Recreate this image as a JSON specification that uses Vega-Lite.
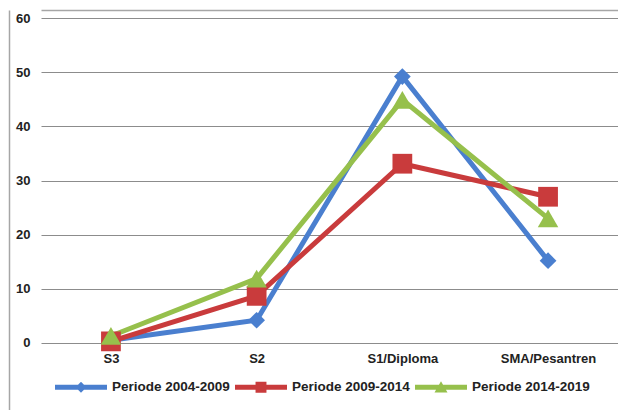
{
  "$schema": "https://vega.github.io/schema/vega-lite/v6.json",
  "width": 577,
  "height": 400,
  "autosize": {"type": "none"},
  "padding": {"left": 41, "top": 10, "right": 0, "bottom": 0},
  "background": "white",
  "config": {
    "view": {"stroke": null},
    "font": "Liberation Sans",
    "axis": {"labelFont": "Liberation Sans", "labelFontSize": 13, "labelFontWeight": "bold", "labelColor": "#222222"}
  },
  "data": {
    "values": [
      {"level": "S3", "periode": "Periode 2004-2009", "value": 0.5},
      {"level": "S2", "periode": "Periode 2004-2009", "value": 4.2},
      {"level": "S1/Diploma", "periode": "Periode 2004-2009", "value": 49.2},
      {"level": "SMA/Pesantren", "periode": "Periode 2004-2009", "value": 15.2},
      {"level": "S3", "periode": "Periode 2009-2014", "value": 0.3},
      {"level": "S2", "periode": "Periode 2009-2014", "value": 8.7},
      {"level": "S1/Diploma", "periode": "Periode 2009-2014", "value": 33.1},
      {"level": "SMA/Pesantren", "periode": "Periode 2009-2014", "value": 27.0},
      {"level": "S3", "periode": "Periode 2014-2019", "value": 1.3},
      {"level": "S2", "periode": "Periode 2014-2019", "value": 11.9},
      {"level": "S1/Diploma", "periode": "Periode 2014-2019", "value": 44.9},
      {"level": "SMA/Pesantren", "periode": "Periode 2014-2019", "value": 23.0}
    ]
  },
  "encoding": {
    "x": {"field": "level", "type": "ordinal", "sort": null, "scale": {"type": "point", "padding": 0.48}},
    "y": {"field": "value", "type": "quantitative", "scale": {"domain": [-12.37, 61.48], "nice": false, "zero": false}},
    "color": {
      "field": "periode", "type": "nominal",
      "scale": {"domain": ["Periode 2004-2009", "Periode 2009-2014", "Periode 2014-2019"], "range": ["#4a7fcf", "#c93b3c", "#96c04c"]}
    }
  },
  "layer": [
    {
      "mark": {"type": "line", "strokeWidth": 5},
      "encoding": {
        "x": {
          "field": "level", "type": "ordinal", "sort": null,
          "axis": {"orient": "bottom", "title": null, "labelAngle": 0, "ticks": false, "domain": false, "grid": false, "offset": -58, "labelPadding": 0}
        },
        "y": {
          "field": "value", "type": "quantitative",
          "axis": {"title": null, "values": [0, 10, 20, 30, 40, 50, 60], "ticks": false, "domain": true, "domainColor": "#a6a6a6", "domainWidth": 1.5, "offset": 32, "labelPadding": -21, "grid": true, "gridColor": "#8c8c8c", "gridWidth": 1.2}
        },
        "color": {
          "field": "periode", "type": "nominal",
          "legend": {
            "orient": "none", "legendX": 14, "legendY": 351, "direction": "horizontal", "title": null,
            "symbolSize": 2704, "labelOffset": 5, "columnPadding": 5,
            "labelFont": "Liberation Sans", "labelFontSize": 13.5, "labelFontWeight": "bold", "labelColor": "#222222",
            "encode": {
              "symbols": {
                "update": {
                  "shape": {"signal": "datum.value == 'Periode 2004-2009' ? 'M-1,-0.1H1V0.1H-1Z M0,-0.21L0.21,0L0,0.21L-0.21,0Z' : datum.value == 'Periode 2009-2014' ? 'M-1,-0.1H1V0.1H-1Z M-0.21,-0.21H0.21V0.21H-0.21Z' : 'M-1,-0.1H1V0.1H-1Z M0,-0.23L0.25,0.2L-0.25,0.2Z'"},
                  "fill": {"signal": "scale('color', datum.value)"},
                  "stroke": {"value": "transparent"},
                  "strokeWidth": {"value": 0}
                }
              }
            }
          }
        }
      }
    },
    {
      "transform": [{"filter": "datum.periode == 'Periode 2004-2009'"}],
      "mark": {"type": "point", "filled": true, "opacity": 1, "shape": "diamond", "size": 280},
      "encoding": {
        "x": {
          "field": "level", "type": "ordinal", "sort": null,
          "axis": {"orient": "top", "title": null, "labels": false, "ticks": false, "grid": false, "domain": true, "domainColor": "#a6a6a6", "domainWidth": 1.5}
        }
      }
    },
    {
      "transform": [{"filter": "datum.periode == 'Periode 2009-2014'"}],
      "mark": {"type": "point", "filled": true, "opacity": 1, "shape": "square", "size": 390},
      "encoding": {"x": {"field": "level", "type": "ordinal", "sort": null, "axis": null}}
    },
    {
      "transform": [{"filter": "datum.periode == 'Periode 2014-2019'"}],
      "mark": {"type": "point", "filled": true, "opacity": 1, "shape": "triangle-up", "size": 420},
      "encoding": {"x": {"field": "level", "type": "ordinal", "sort": null, "axis": null}}
    }
  ],
  "resolve": {"axis": {"x": "independent"}}
}
